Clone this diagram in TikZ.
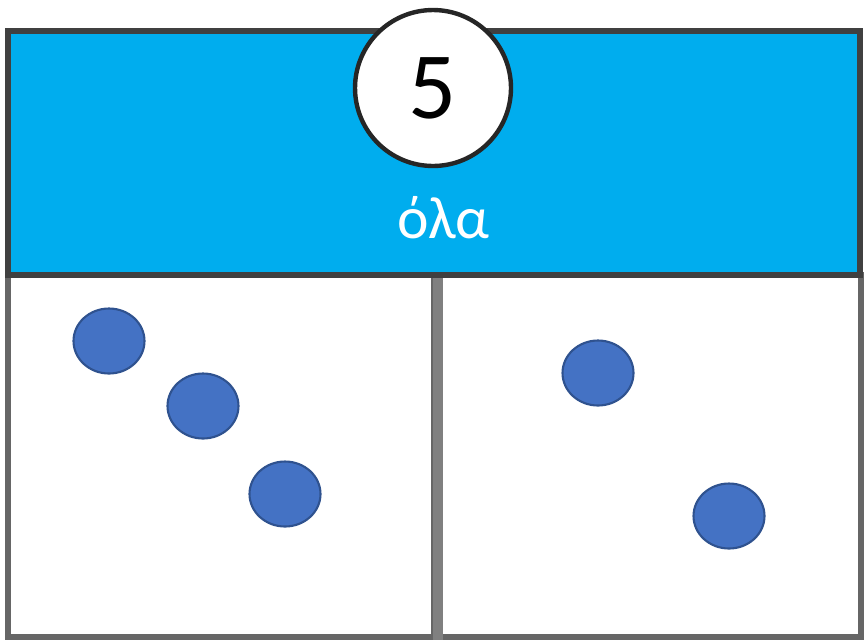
\documentclass[tikz,border=0pt]{standalone}
\usepackage{fontspec}
\setmainfont{Carlito}
\usetikzlibrary{positioning,shapes.geometric}

\begin{document}
\begin{tikzpicture}[x=0.02cm,y=-0.02cm,
 band/.style={draw=black!75,line width=3pt,fill={rgb,255:red,0;green,173;blue,238},minimum width=17.04cm,minimum height=4.88cm,inner sep=0pt},
 panel/.style={draw=black!60,line width=3.5pt,fill=white,minimum width=8.54cm,minimum height=7.24cm,inner sep=0pt},
 badge/.style={draw=black!85,line width=2.5pt,fill=white,circle,minimum size=3.12cm,inner sep=0pt},
 dot/.style={draw={rgb,255:red,47;green,82;blue,143},line width=1.2pt,fill={rgb,255:red,68;green,114;blue,196},ellipse,minimum width=1.42cm,minimum height=1.3cm,inner sep=0pt}]
\useasboundingbox (0,0) rectangle (864,640);
\node[panel] (left) at (221.5,456) {};
\node[panel] (right) at (647.5,456) {};
\draw[black!50,line width=5.5pt] (left.north east) -- (left.south east);
\node[band] (top) at (434,153) {};
\node[badge] (count) at (433,88) {\fontsize{54}{54}\selectfont 5};
\node[text=white,font=\fontsize{34}{34}\selectfont] (word) at (443,218) {όλα};
\node[dot] (a1) at (109,341) {};
\node[dot] (a2) at (203,406) {};
\node[dot] (a3) at (285,494) {};
\node[dot] (b1) at (598,373) {};
\node[dot] (b2) at (729,516) {};
\end{tikzpicture}
\end{document}
